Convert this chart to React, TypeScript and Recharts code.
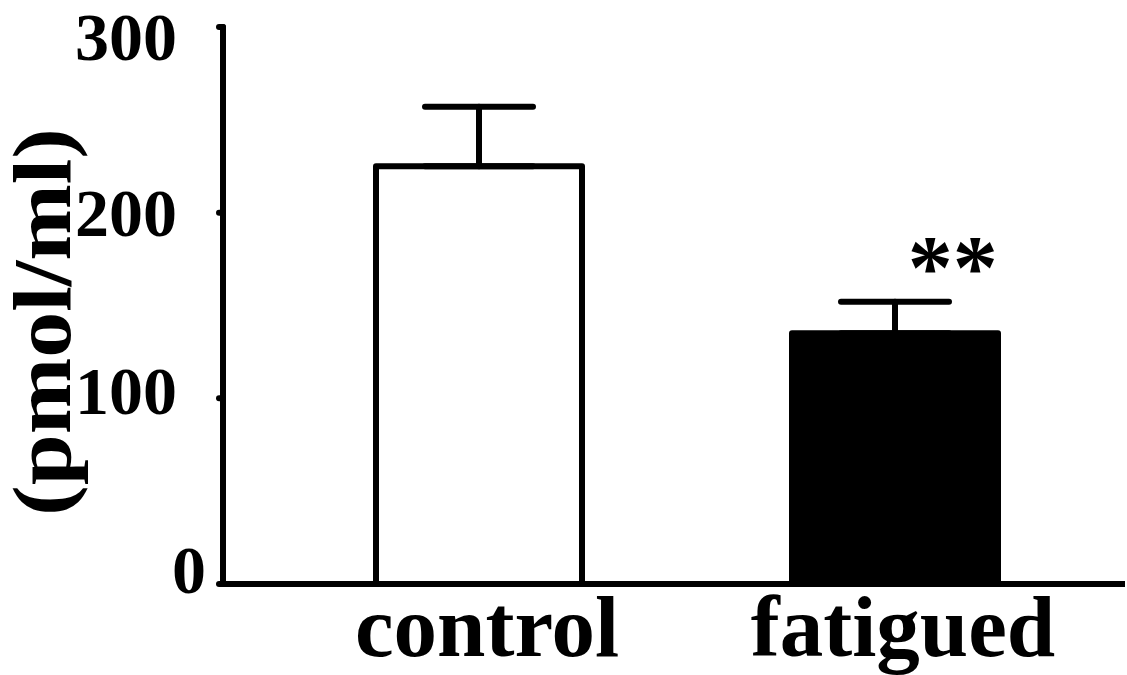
import React from 'react';
import { BarChart, Bar, XAxis, YAxis, ErrorBar, Cell, LabelList } from 'recharts';

const groups = ['control', 'fatigued'];
const means = [225, 135];
const errors = [32, 17];
const fills = ['#ffffff', '#000000'];
const marks = ['', '**'];
const yTicks = [0, 100, 200, 300];

const data = groups.map((g, i) => ({
  group: g,
  value: means[i],
  err: [0, errors[i]],
  mark: marks[i],
}));

const FONT = '"Liberation Serif", "Times New Roman", serif';

// small nudges so the hand-placed tick labels line up like the original
const tickNudge: Record<number, [number, number]> = {
  0: [29, -14],
  100: [0, -7],
  200: [0, 0],
  300: [0, 10],
};

function YTick(props: any) {
  const { x, y, payload } = props;
  const [dx, dy] = tickNudge[payload.value] || [0, 0];
  return (
    <text
      x={x - 40 + dx}
      y={y + dy}
      textAnchor="end"
      dominantBaseline="central"
      fontFamily={FONT}
      fontWeight="bold"
      fontSize={68}
      fill="#000"
    >
      {payload.value}
    </text>
  );
}

function XTick(props: any) {
  const { x, y, payload } = props;
  return (
    <text
      x={x + 8}
      y={y + 64}
      textAnchor="middle"
      fontFamily={FONT}
      fontWeight="bold"
      fontSize={87}
      fill="#000"
    >
      {payload.value}
    </text>
  );
}

function Stars(props: any) {
  const { x, y, width, value } = props;
  if (!value) return null;
  return (
    <text
      x={x + width * 0.78}
      y={y - 35}
      textAnchor="middle"
      fontFamily={FONT}
      fontWeight="bold"
      fontSize={90}
      fill="#000"
    >
      {value}
    </text>
  );
}

export default function App() {
  return (
    <div style={{ position: 'absolute', left: 0, top: 0, background: '#fff' }}>
      <BarChart
        width={1127}
        height={675}
        data={data}
        margin={{ top: 27, right: 2, left: 0, bottom: 0 }}
        barCategoryGap={0}
      >
        <text
          transform="translate(70, 322) rotate(-90) scale(1.12, 1)"
          textAnchor="middle"
          fontFamily={FONT}
          fontWeight="bold"
          fontSize={82}
          fill="#000"
        >
          (pmol/ml)
        </text>
        <YAxis
          width={223}
          domain={[0, 300]}
          ticks={yTicks}
          interval={0}
          tickSize={4}
          axisLine={{ stroke: '#000', strokeWidth: 6, strokeLinecap: 'round' }}
          tickLine={{ stroke: '#000', strokeWidth: 6, strokeLinecap: 'round' }}
          tick={<YTick />}
        />
        <XAxis
          dataKey="group"
          height={91}
          padding={{ left: 48, right: 22 }}
          axisLine={{ stroke: '#000', strokeWidth: 6 }}
          tickLine={false}
          tick={<XTick />}
          interval={0}
        />
        <Bar
          dataKey="value"
          barSize={206}
          stroke="#000"
          strokeWidth={6}
          strokeLinejoin="round"
          isAnimationActive={false}
        >
          {data.map((d, i) => (
            <Cell key={d.group} fill={fills[i]} />
          ))}
          <ErrorBar
            dataKey="err"
            width={54}
            stroke="#000"
            strokeWidth={6}
            strokeLinecap="round"
            direction="y"
            isAnimationActive={false}
          />
          <LabelList dataKey="mark" content={<Stars />} />
        </Bar>
      </BarChart>
    </div>
  );
}
